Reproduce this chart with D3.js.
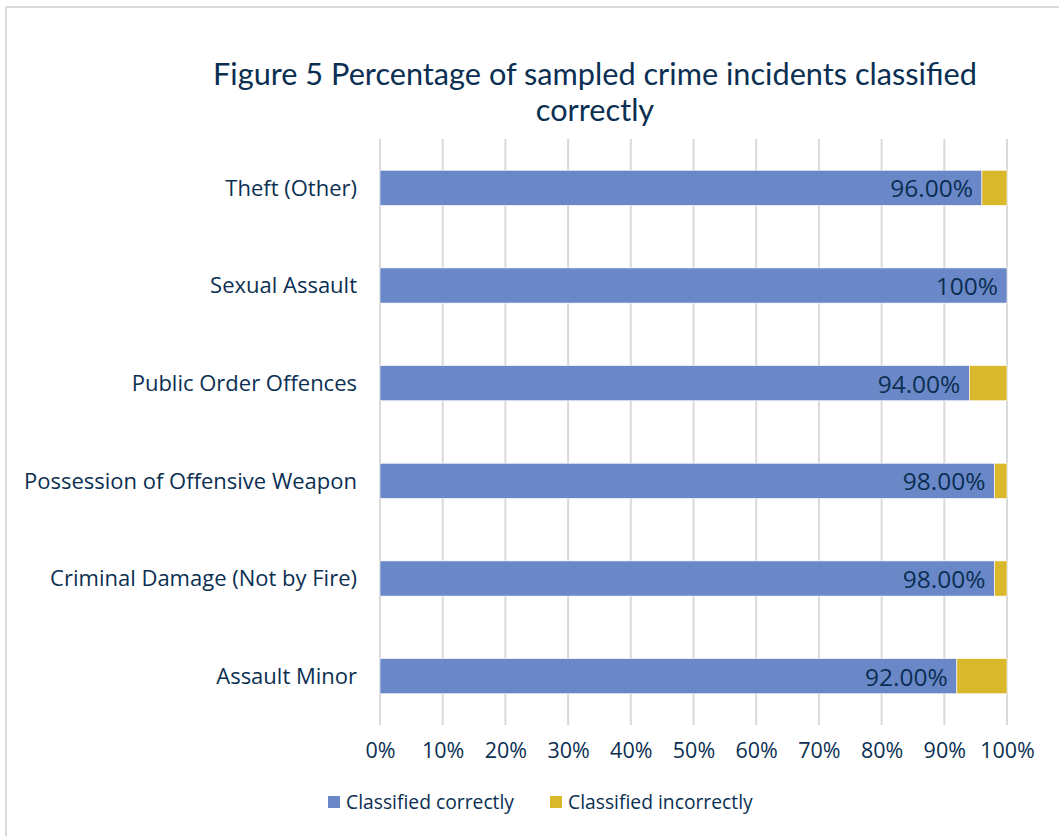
<!DOCTYPE html>
<html><head><meta charset="utf-8">
<script src="https://cdn.jsdelivr.net/npm/d3@7"></script>
<style>
html,body{margin:0;padding:0;background:#fff;}
svg{display:block;font-family:"Open Sans", Lato, sans-serif;}
</style></head>
<body><svg id="c" width="1059" height="836"></svg>
<script>
const categories = ["Theft (Other)","Sexual Assault","Public Order Offences","Possession of Offensive Weapon","Criminal Damage (Not by Fire)","Assault Minor"];
const correct = [96,100,94,98,98,92];
const incorrect = [4,0,6,2,2,8];
const valueLabels = ["96.00%","100%","94.00%","98.00%","98.00%","92.00%"];
const tickValues = [0,10,20,30,40,50,60,70,80,90,100];
const seriesNames = ["Classified correctly","Classified incorrectly"];
const titleLines = ["Figure 5 Percentage of sampled crime incidents classified","correctly"];

const colors = ["#6A88C8","#D9B92B"];
const textColor = "#0B2F52";
const svg = d3.select("#c");

svg.append("line").attr("x1",6).attr("x2",1059).attr("y1",7).attr("y2",7).attr("stroke","#d9d9d9").attr("stroke-width",2);
svg.append("line").attr("x1",6).attr("x2",6).attr("y1",7).attr("y2",836).attr("stroke","#d9d9d9").attr("stroke-width",2);

const x = d3.scaleLinear().domain([0,100]).range([380,1007]);
const y = d3.scaleBand().domain(categories).range([139,725]).paddingInner(0.64).paddingOuter(0.32);

svg.append("text").attr("x",595).attr("y",85).attr("text-anchor","middle").attr("font-family","Lato, sans-serif")
  .attr("fill",textColor).attr("font-size",30.7).text(titleLines[0]);
svg.append("text").attr("x",595).attr("y",121).attr("text-anchor","middle").attr("font-family","Lato, sans-serif")
  .attr("fill",textColor).attr("font-size",30.7).text(titleLines[1]);

svg.append("g").selectAll("line").data(tickValues).join("line")
  .attr("x1",d=>x(d)).attr("x2",d=>x(d)).attr("y1",139).attr("y2",725)
  .attr("stroke","#d9d9d9").attr("stroke-width",2);

const data = categories.map((c,i)=>({cat:c, correct:correct[i], incorrect:incorrect[i]}));
const stack = d3.stack().keys(["correct","incorrect"])(data);
svg.append("g").selectAll("g").data(stack).join("g").attr("fill",(d,i)=>colors[i])
  .selectAll("rect").data(d=>d.filter(s=>s[1]-s[0]>0)).join("rect")
  .attr("x",d=>x(d[0])).attr("width",d=>x(d[1])-x(d[0]))
  .attr("y",d=>y(d.data.cat)).attr("height",y.bandwidth())
  .attr("stroke","#fff").attr("stroke-width",0.6);

svg.append("g").selectAll("text").data(data).join("text")
  .attr("x",d=>x(d.correct)-9).attr("y",d=>y(d.cat)+y.bandwidth()/2+1)
  .attr("dy","0.35em").attr("text-anchor","end").attr("fill",textColor).attr("font-size",24.5)
  .text((d,i)=>valueLabels[i]);

svg.append("g").selectAll("text").data(categories).join("text")
  .attr("x",357).attr("y",d=>y(d)+y.bandwidth()/2)
  .attr("dy","0.35em").attr("text-anchor","end").attr("fill",textColor).attr("font-size",22)
  .text(d=>d);

const ax = svg.append("g").attr("transform","translate(0,725)")
  .call(d3.axisBottom(x).tickValues(tickValues).tickFormat(d=>d+"%").tickSize(0).tickPadding(18));
ax.select(".domain").remove();
ax.selectAll("text").attr("fill",textColor).attr("font-size",21.5).attr("font-family","'Open Sans', sans-serif");

const leg = svg.append("g");
const legX = [328,550];
seriesNames.forEach((n,i)=>{
  leg.append("rect").attr("x",legX[i]).attr("y",796).attr("width",12).attr("height",12).attr("fill",colors[i]);
  leg.append("text").attr("x",legX[i]+18).attr("y",802).attr("dy","0.35em").attr("fill",textColor)
    .attr("font-size",19.3).text(n);
});
</script></body></html>
